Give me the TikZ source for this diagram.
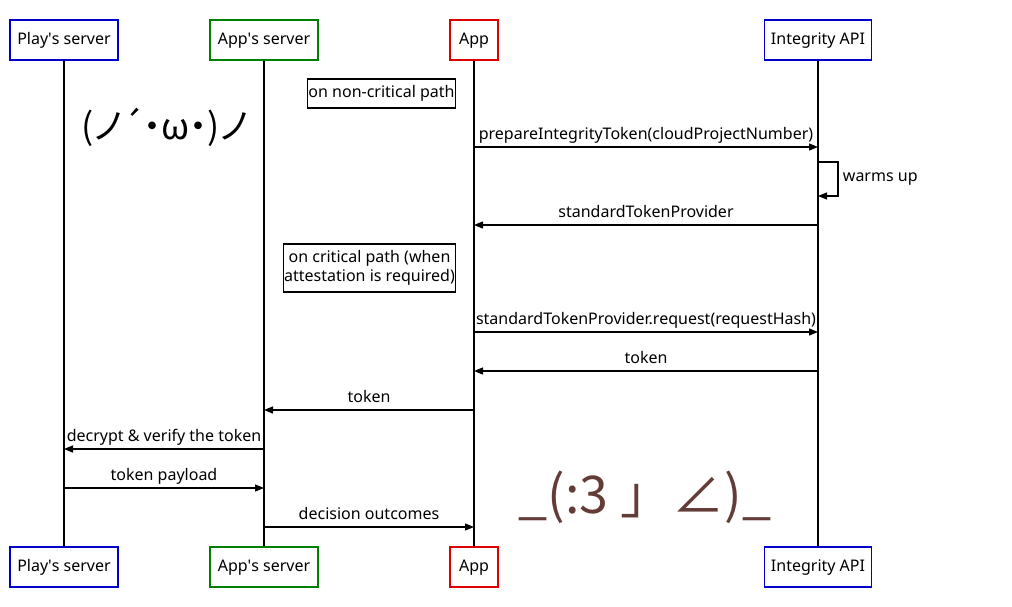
\documentclass[tikz,border=0pt]{standalone}
\usepackage{fontspec}
\setmainfont{Noto Sans}
\newfontfamily\cjk{Noto Sans CJK JP}[RawFeature=+palt]
\newfontfamily\cjkfull{Noto Sans CJK JP}
\usetikzlibrary{arrows.meta,positioning,calc}
\definecolor{playblue}{RGB}{0,0,200}
\definecolor{appgreen}{RGB}{0,128,0}
\definecolor{appred}{RGB}{220,0,0}
\definecolor{kaobrown}{RGB}{100,60,55}

\tikzset{
  actor/.style={draw, line width=1.5pt, minimum height=40pt, inner sep=2pt,
                text height=11.5pt, text depth=3pt,
                font=\fontsize{16}{18}\selectfont},
  notebox/.style={draw, line width=1.2pt, align=center, inner sep=1pt,
                  font=\fontsize{16}{19}\selectfont},
  lifeline/.style={line width=1.2pt},
  msg/.style={line width=1.2pt, -{Triangle[length=9pt,width=7pt]}},
  msglabel/.style={above=3pt, inner sep=1pt, text height=11.5pt, text depth=3pt,
                   font=\fontsize{16}{18}\selectfont}
}

\begin{document}
\begin{tikzpicture}[x=1pt, y=-1pt]
  \useasboundingbox (0,0) rectangle (1012,606);

  % participants, top and bottom
  \node[actor, playblue, minimum width=108pt] (play) at (64,40) {\color{black}Play\textquotesingle s server};
  \node[actor, appgreen, minimum width=108pt] (srv) at (264,40) {\color{black}App\textquotesingle s server};
  \node[actor, appred, minimum width=48pt] (app) at (474,40) {\color{black}App};
  \node[actor, playblue, minimum width=107pt] (api) at (818,40) {\color{black}Integrity API};

  \node[actor, playblue, minimum width=108pt] (play-b) at (64,567) {\color{black}Play\textquotesingle s server};
  \node[actor, appgreen, minimum width=108pt] (srv-b) at (264,567) {\color{black}App\textquotesingle s server};
  \node[actor, appred, minimum width=48pt] (app-b) at (474,567) {\color{black}App};
  \node[actor, playblue, minimum width=107pt] (api-b) at (818,567) {\color{black}Integrity API};

  % lifelines
  \foreach \p in {play, srv, app, api}
    \draw[lifeline] (\p) -- (\p-b);

  % notes
  \node[notebox, minimum width=147pt, minimum height=29pt] (note1) at (381.5,93.5)
       {on non-critical path};
  \node[notebox, minimum width=171pt, minimum height=48pt] (note2) at (369.5,268)
       {on critical path (when\\attestation is required)};

  % messages
  \foreach \from/\to/\y/\txt in {
      app/api/147/prepareIntegrityToken(cloudProjectNumber),
      api/app/225/standardTokenProvider,
      app/api/332/standardTokenProvider.request(requestHash),
      api/app/371/token,
      app/srv/410/token,
      srv/play/449/decrypt \& verify the token,
      play/srv/488/token payload,
      srv/app/527/decision outcomes}
    \draw[msg] (\from |- 0,\y) -- node[msglabel] {\txt} (\to |- 0,\y);

  % self call
  \draw[msg] (api |- 0,162) -- ++(20,0) -- ++(0,34)
       node[midway, right=1pt, font=\fontsize{16}{18}\selectfont] (warm) {warms up}
       -- (api |- 0,196);

  % kaomoji
  \node[font=\cjk\fontsize{36}{40}\selectfont] (kao1) at (165,127) {(ノ´・ω・)ノ};
  \node[font=\cjkfull\fontsize{52}{56}\selectfont, text=kaobrown] (kao2) at (645,497) {\_(:3 」∠)\_};
\end{tikzpicture}
\end{document}
